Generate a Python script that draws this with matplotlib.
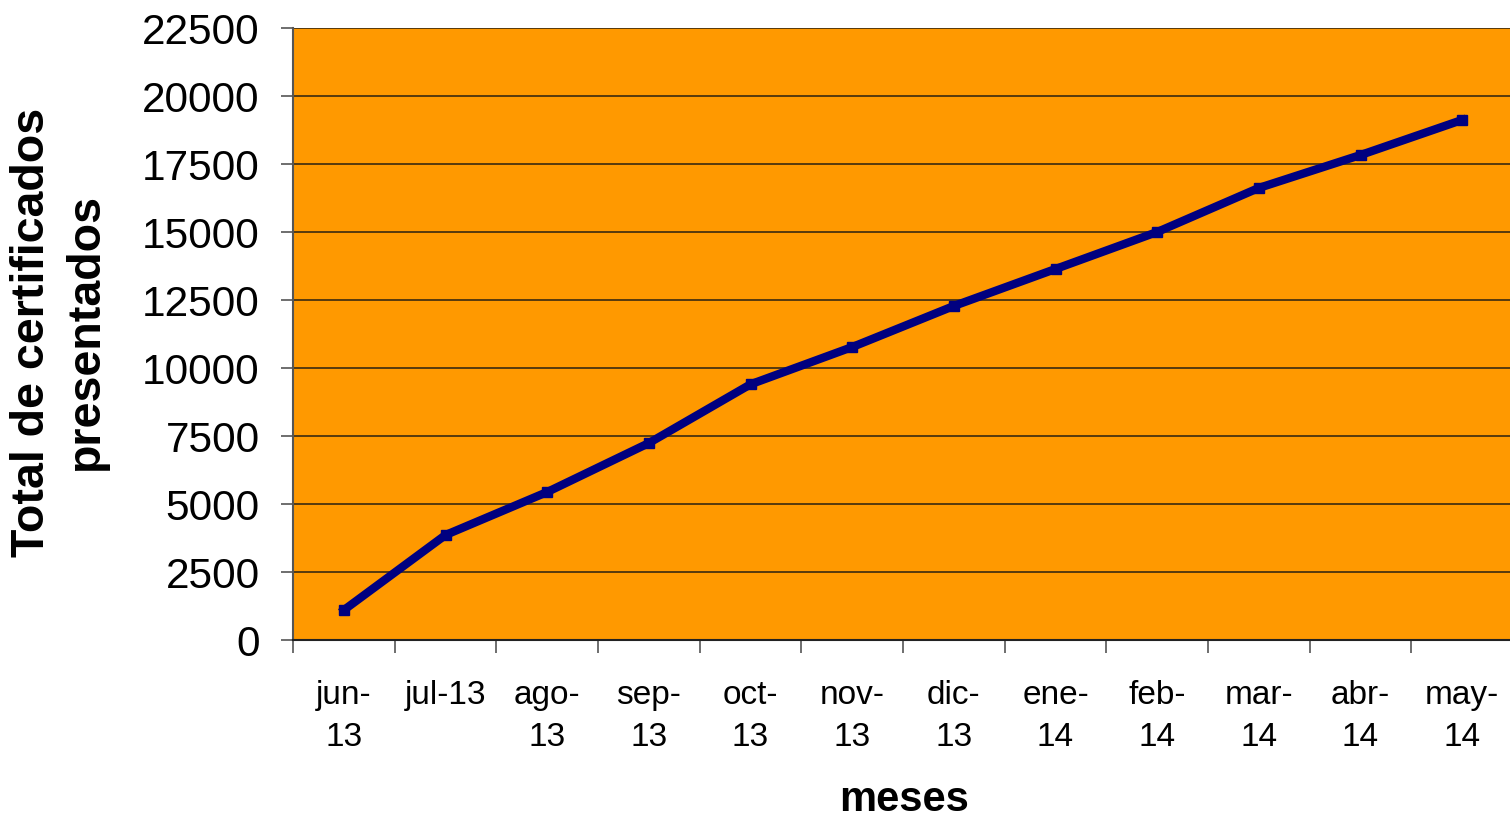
import numpy as np
import matplotlib.pyplot as plt

meses = ["jun-\n13", "jul-13", "ago-\n13", "sep-\n13", "oct-\n13", "nov-\n13",
         "dic-\n13", "ene-\n14", "feb-\n14", "mar-\n14", "abr-\n14", "may-\n14"]
total = [1100, 3860, 5440, 7240, 9400, 10770, 12280, 13640, 15000, 16620, 17830, 19120]
yticks = [0, 2500, 5000, 7500, 10000, 12500, 15000, 17500, 20000, 22500]

plt.rcParams['font.family'] = ['Liberation Sans', 'DejaVu Sans']

fig = plt.figure(figsize=(15.1, 8.22), dpi=100)
ax = fig.add_axes([293 / 1510, 1 - 640 / 822, 1220 / 1510, 612 / 822])
ax.set_facecolor('#FF9900')

x = np.arange(len(total))
ax.plot(x, total, color='#000080', linewidth=6, marker='s', markersize=7,
        markerfacecolor='#000080', markeredgecolor='#000080', zorder=3)

ax.set_ylim(0, 22500)
ax.set_xlim(-0.5, len(total) - 0.5)
ax.set_yticks(yticks)
ax.set_yticklabels([str(v) for v in yticks])
ax.yaxis.grid(True, color='#3a2a10', linewidth=1.2)
ax.set_axisbelow(True)

# ticks en los bordes de categoria, etiquetas en el centro
ax.set_xticks(np.arange(-0.5, len(total), 1.0))
ax.set_xticklabels([])
ax.set_xticks(x, minor=True)
ax.set_xticklabels(meses, minor=True, fontsize=24, linespacing=1.45)
ax.tick_params(axis='x', which='minor', length=0, pad=29)
ax.tick_params(axis='x', which='major', length=9, width=1.2, color='#555555')
ax.tick_params(axis='y', labelsize=30.5, length=9, width=1.2, color='#555555', pad=15)

for s in ['top', 'right']:
    ax.spines[s].set_visible(False)
ax.spines['left'].set_color('#555555')
ax.spines['bottom'].set_color('#222222')
ax.spines['left'].set_linewidth(1.5)
ax.spines['bottom'].set_linewidth(1.5)

fig.text(59 / 1510, 1 - 332 / 822, "Total de certificados\npresentados", rotation=90,
         ha='center', va='center', fontsize=33.5, fontweight='bold', linespacing=1.3)
fig.text(904 / 1510, 1 - 800 / 822, "meses", ha='center', va='center',
         fontsize=30, fontweight='bold')

fig.savefig("out.png", dpi=100)
